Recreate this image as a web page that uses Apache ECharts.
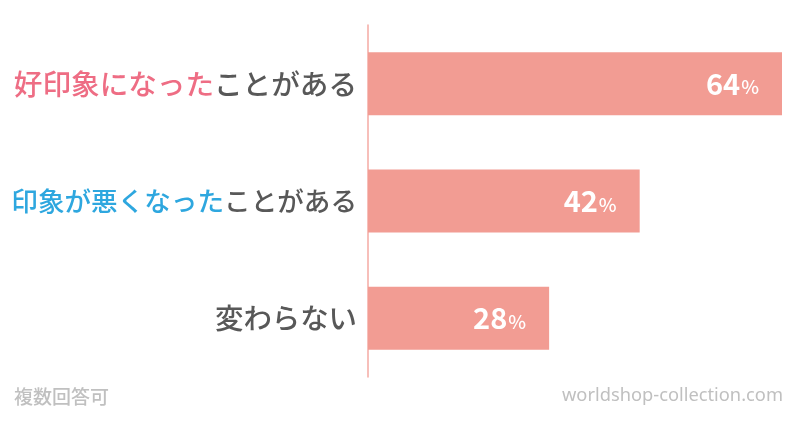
<!DOCTYPE html>
<html><head><meta charset="utf-8">
<script src="https://cdn.jsdelivr.net/npm/echarts@6/dist/echarts.min.js"></script>
<style>html,body{margin:0;padding:0;background:#fff}#c{width:800px;height:424px}</style>
</head><body><div id="c"></div>
<script>
const categories = ['変わらない', '印象が悪くなったことがある', '好印象になったことがある'];
const labelParts = [
  [['g', '変わらない']],
  [['b', '印象が悪くなった'], ['g', 'ことがある']],
  [['p', '好印象になった'], ['g', 'ことがある']]
];
const values = [28, 42, 64];
const footLeft = '複数回答可';
const footRight = 'worldshop-collection.com';

const chart = echarts.init(document.getElementById('c'));
const font = '"Noto Sans CJK JP", "Noto Sans", sans-serif';
const rowSize = [28.4, 26.6, 28.6];
const rich = {};
rowSize.forEach(function (sz, i) {
  rich['p' + i] = { color: '#ee6d84', fontSize: sz, fontWeight: 500, fontFamily: font };
  rich['b' + i] = { color: '#2ea7df', fontSize: sz, fontWeight: 500, fontFamily: font };
  rich['g' + i] = { color: '#585858', fontSize: sz, fontWeight: 500, fontFamily: font };
});
chart.setOption({
  animation: false,
  grid: { left: 368, right: 18, top: 25, bottom: 47, containLabel: false },
  xAxis: { type: 'value', min: 0, max: 64, show: false },
  yAxis: {
    type: 'category', data: categories,
    axisLine: { show: true, lineStyle: { color: '#f4aaa3', width: 1.5 } },
    axisTick: { show: false },
    axisLabel: {
      margin: 11,
      formatter: function (v, i) {
        return labelParts[i].map(p => '{' + p[0] + i + '|' + p[1] + '}').join('');
      },
      rich: rich
    }
  },
  series: [{
    type: 'bar', data: values, barWidth: 63,
    itemStyle: { color: '#f29c93' },
    label: {
      show: true, position: 'insideRight', distance: 23,
      formatter: '{n|{c}}{s|%}',
      rich: {
        n: { color: '#fff', fontSize: 29, fontWeight: 'bold', fontFamily: font },
        s: { color: '#fff', fontSize: 19, fontWeight: 500, fontFamily: font, padding: [7, 0, 0, 1] }
      }
    }
  }],
  graphic: [
    { type: 'text', left: 14, top: 387, style: { text: footLeft, fill: '#c0c0c0', fontSize: 19, fontWeight: 500, fontFamily: font } },
    { type: 'text', right: 17, top: 387, style: { text: footRight, fill: '#c0c0c0', fontSize: 18.3, fontFamily: '"Noto Sans", sans-serif' } }
  ]
});
</script></body></html>
